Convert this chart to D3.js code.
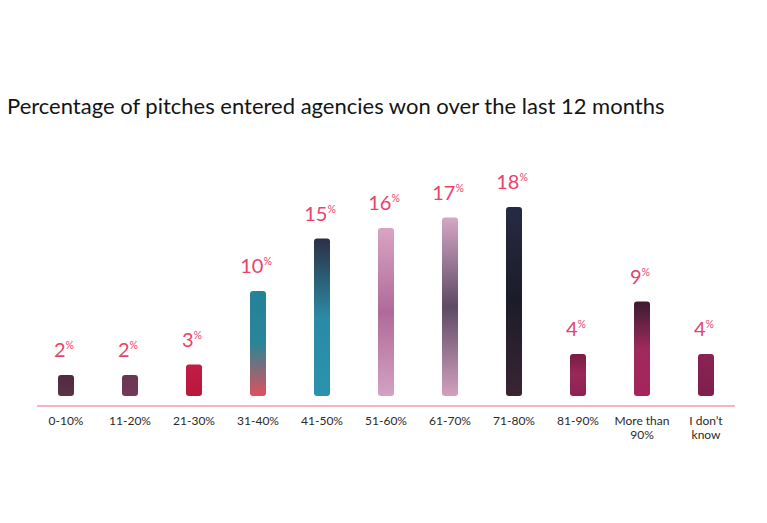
<!DOCTYPE html>
<html>
<head>
<meta charset="utf-8">
<script src="https://cdn.jsdelivr.net/npm/d3@7"></script>
<style>
  body { margin: 0; background: #fff; }
  .title { font-family: Lato, "Noto Sans", sans-serif; font-size: 22px; fill: #151515; }
  .tick text { font-family: Lato, "Noto Sans", sans-serif; font-size: 12px; fill: #2a2a2a; }
  .val { font-family: Lato, "Noto Sans", sans-serif; font-weight: 400; fill: #e8436b; }
</style>
</head>
<body>
<div class="canva"></div>
<script>
const categories = ["0-10%", "11-20%", "21-30%", "31-40%", "41-50%", "51-60%",
                    "61-70%", "71-80%", "81-90%", "More than 90%", "I don\u2019t know"];
const values = [2, 2, 3, 10, 15, 16, 17, 18, 4, 9, 4];
const tickLines = [["0-10%"], ["11-20%"], ["21-30%"], ["31-40%"], ["41-50%"], ["51-60%"],
                   ["61-70%"], ["71-80%"], ["81-90%"], ["More than", "90%"], ["I don\u2019t", "know"]];
// rough colours of the photo fills, top to bottom
const barColors = [
  ["#4e2a40", "#5e3249"],
  ["#6a3550", "#73395a"],
  ["#c21c44", "#b8173c"],
  ["#23839a", "#2a8598", "#e0505c"],
  ["#2c2f45", "#2b8aa5", "#2a92ae"],
  ["#d8a4c4", "#b06a9a", "#d4a2c2"],
  ["#d6a6c6", "#5d4a66", "#d3a0bf"],
  ["#262a44", "#1c1c28", "#3a2434"],
  ["#7a1c44", "#9a2858", "#8c2250"],
  ["#3a1c30", "#9e2a5c", "#a6245a"],
  ["#8a2354", "#7e1f4c"]
];

const width = 767, height = 523;
const margin = {left: 37, right: 32};
const baseY = 396, axisY = 406;

const svg = d3.select(".canva").append("svg")
              .attr("width", width)
              .attr("height", height);

svg.append("text")
   .attr("class", "title")
   .attr("x", 7)
   .attr("y", 114)
   .text("Percentage of pitches entered agencies won over the last 12 months");

const x = d3.scaleBand()
            .domain(categories)
            .range([margin.left - 3, width - margin.right + 3])
            .paddingInner(0.75)
            .paddingOuter(0.375);

const y = d3.scaleLinear()
            .domain([0, 18])
            .range([baseY, 207]);

const defs = svg.append("defs");
barColors.forEach(function(cols, i) {
  const g = defs.append("linearGradient")
                .attr("id", "g" + i)
                .attr("x1", 0).attr("y1", 0).attr("x2", 0).attr("y2", 1);
  cols.forEach(function(c, j) {
    g.append("stop")
     .attr("offset", (j / (cols.length - 1) * 100) + "%")
     .attr("stop-color", c);
  });
});

const bw = 16;
svg.selectAll("rect.bar")
   .data(values)
   .enter()
   .append("rect")
   .attr("class", "bar")
   .attr("x", (d, i) => x(categories[i]) + x.bandwidth() / 2 - bw / 2)
   .attr("y", d => y(d))
   .attr("width", bw)
   .attr("height", d => baseY - y(d))
   .attr("rx", 3)
   .attr("fill", (d, i) => "url(#g" + i + ")");

const labels = svg.selectAll("text.val")
   .data(values)
   .enter()
   .append("text")
   .attr("class", "val")
   .attr("x", (d, i) => x(categories[i]) + x.bandwidth() / 2 - 2)
   .attr("y", d => y(d) - 18)
   .attr("text-anchor", "middle");
labels.append("tspan").attr("font-size", 20).text(d => d);
labels.append("tspan").attr("font-size", 10.5).attr("dy", -8).text("%");

// axis
const axisG = svg.append("g")
   .attr("transform", "translate(0," + axisY + ")")
   .call(d3.axisBottom(x).tickSize(0).tickPadding(10).tickFormat(""));
axisG.select(".domain")
   .attr("d", "M" + margin.left + ",0H" + (width - margin.right))
   .attr("stroke", "#ec6a86")
   .attr("stroke-width", 1.2);
axisG.selectAll(".tick text").each(function(d, i) {
  const t = d3.select(this);
  t.attr("y", 10);
  tickLines[i].forEach(function(line, k) {
    t.append("tspan")
     .attr("x", 0)
     .attr("dy", k === 0 ? "0.71em" : "1.2em")
     .text(line);
  });
});
</script>
</body>
</html>
